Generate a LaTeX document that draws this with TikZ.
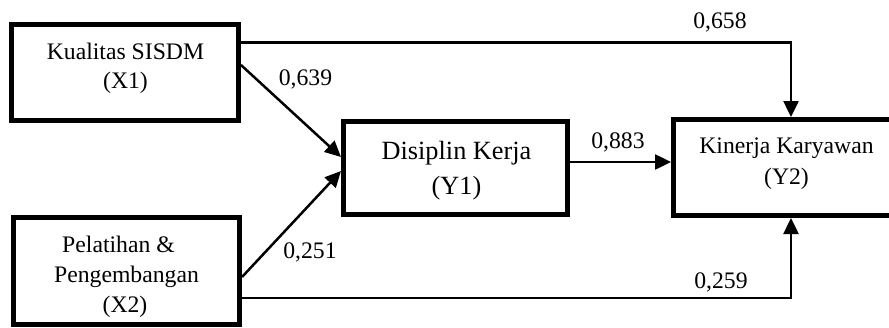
\documentclass[tikz,border=0pt]{standalone}
\usepackage{fontspec}
\setmainfont{Liberation Serif}
\usetikzlibrary{arrows.meta}

\tikzset{
  varbox/.style={draw=black, line width=5pt, rectangle, inner sep=0pt, fill=white},
  txt/.style={anchor=base, inner sep=0pt, font=\fontsize{23.7}{30}\selectfont},
  bigtxt/.style={anchor=base, inner sep=0pt, font=\fontsize{26.3}{35}\selectfont},
  coef/.style={anchor=base, inner sep=0pt, font=\fontsize{23.7}{30}\selectfont},
  path arrow/.style={draw=black, line width=2.5pt, -{Triangle[length=16pt,width=15pt]}},
}

\begin{document}
\begin{tikzpicture}[x=1pt, y=-1pt]
  \useasboundingbox (0,0) rectangle (889,327);

  % variable boxes
  \node[varbox, minimum width=227pt, minimum height=96pt]  (X1) at (125,72.5) {};
  \node[varbox, minimum width=226pt, minimum height=107pt] (X2) at (126.5,271) {};
  \node[varbox, minimum width=224pt, minimum height=93pt]  (Y1) at (455.5,168) {};
  \node[varbox, minimum width=235pt, minimum height=96pt]  (Y2) at (791,167.5) {};

  % box texts
  \node[txt] (X1a) at (125.5,59) {Kualitas SISDM};
  \node[txt] (X1b) at (125.5,88.5) {(X1)};
  \node[txt] (X2a) at (118.5,252) {Pelatihan \&};
  \node[txt] (X2b) at (126.5,282) {Pengembangan};
  \node[txt] (X2c) at (125,312) {(X2)};
  \node[bigtxt] (Y1a) at (456.5,159) {Disiplin Kerja};
  \node[bigtxt] (Y1b) at (456.5,194) {(Y1)};
  \node[txt] (Y2a) at (786.5,153.5) {Kinerja Karyawan};
  \node[txt] (Y2b) at (786.5,184.5) {(Y2)};

  % paths between the variables
  \draw[path arrow] (X1.east |- 0,42.5) -| (Y2.north);
  \draw[path arrow] (X1.east |- 0,65) -- (Y1.west |- 0,157);
  \draw[path arrow] (X2.east |- 0,277) -- (Y1.west |- 0,171);
  \draw[path arrow] (Y1.east |- 0,162) -- (Y2.west |- 0,162);
  \draw[path arrow] (X2.east |- 0,298) -| (Y2.south);

  % path coefficients
  \node[coef] (c658) at (720,28) {0,658};
  \node[coef] (c639) at (305.5,85.5) {0,639};
  \node[coef] (c883) at (618,148) {0,883};
  \node[coef] (c251) at (310,258) {0,251};
  \node[coef] (c259) at (721,288) {0,259};
\end{tikzpicture}
\end{document}
